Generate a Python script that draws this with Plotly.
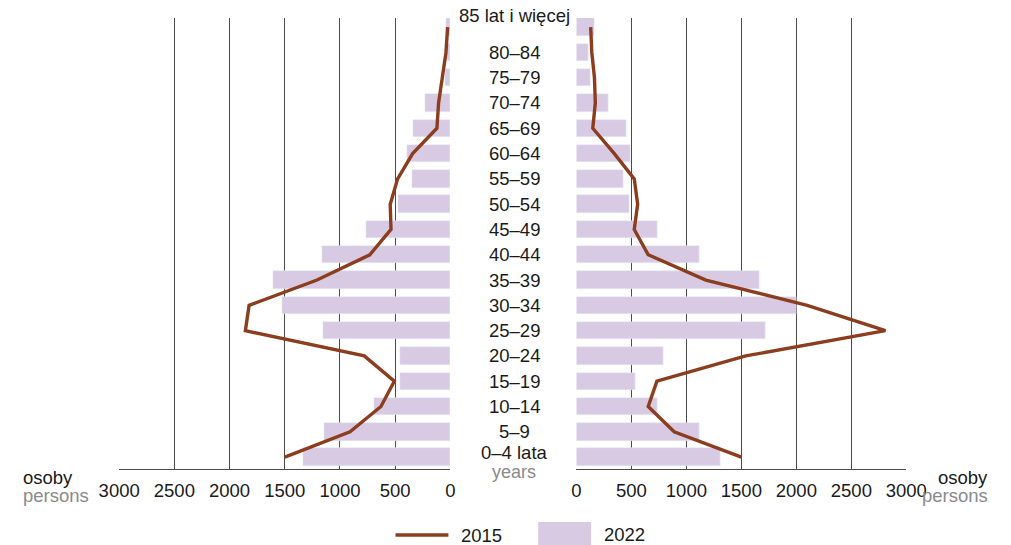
import plotly.graph_objects as go

# Age groups, bottom to top
age_groups = ["0–4 lata", "5–9", "10–14", "15–19", "20–24", "25–29", "30–34", "35–39",
              "40–44", "45–49", "50–54", "55–59", "60–64", "65–69", "70–74", "75–79",
              "80–84", "85 lat i więcej"]

left_2022 = [1336, 1146, 693, 457, 457, 1155, 1527, 1608, 1165, 765, 475, 350, 395, 340, 230, 45, 30, 40]
left_2015 = [1500, 909, 629, 508, 780, 1857, 1823, 1208, 730, 538, 545, 478, 342, 122, 107, 74, 40, 25]
right_2022 = [1312, 1122, 741, 532, 793, 1721, 2000, 1666, 1122, 741, 478, 424, 493, 451, 294, 124, 112, 167]
right_2015 = [1500, 889, 653, 732, 1540, 2810, 2099, 1177, 653, 526, 557, 526, 345, 149, 172, 164, 140, 130]

tick_vals = [0, 500, 1000, 1500, 2000, 2500, 3000]
tick_text = ["0", "500", "1000", "1500", "2000", "2500", "3000"]

W, H = 1011, 545
BAR_COLOR = "#D8CAE3"
LINE_COLOR = "#8B3D1E"
GRID = "#4a4a4a"
FONT = "Liberation Sans, Arial, sans-serif"
TXT = "#1a1a1a"
GREY = "#8a8a8a"

# horizontal placement helper (compensates for how the page is displayed)
OFF, SC = 18.6, 0.9607

def px(x):
    v = (x - OFF) / SC / W
    return min(max(v, 0.0), 1.0)

def py(y):
    return (H - y) / H

ypos = list(range(len(age_groups)))

fig = go.Figure()
fig.add_trace(go.Bar(x=left_2022, y=ypos, orientation="h", marker_color=BAR_COLOR,
                     width=0.69, xaxis="x", yaxis="y", name="2022", showlegend=False))
fig.add_trace(go.Bar(x=right_2022, y=ypos, orientation="h", marker_color=BAR_COLOR,
                     width=0.69, xaxis="x2", yaxis="y", name="2022", showlegend=False))
fig.add_trace(go.Scatter(x=left_2015, y=ypos, mode="lines", line=dict(color=LINE_COLOR, width=3.4),
                         xaxis="x", yaxis="y", name="2015", showlegend=False))
fig.add_trace(go.Scatter(x=right_2015, y=ypos, mode="lines", line=dict(color=LINE_COLOR, width=3.4),
                         xaxis="x2", yaxis="y", name="2015", showlegend=False))

axis_common = dict(
    tickvals=tick_vals, ticktext=tick_text, showgrid=True, gridcolor=GRID, gridwidth=1,
    zeroline=False, showline=True, linecolor=GRID, linewidth=1, ticks="",
    ticklabelstandoff=5,
    layer="above traces", tickfont=dict(family=FONT, size=18.5, color=TXT),
    fixedrange=True,
)

fig.update_layout(
    width=W, height=H, autosize=False,
    margin=dict(l=0, r=0, t=0, b=0),
    paper_bgcolor="white", plot_bgcolor="white",
    bargap=0,
    xaxis=dict(domain=[px(117), px(449)], range=[3000, 0], anchor="y", **axis_common),
    xaxis2=dict(domain=[px(575.3), px(906)], range=[0, 3000], anchor="y", **axis_common),
    yaxis=dict(domain=[py(469), py(18)], range=[-0.47, 17.36], showgrid=False, zeroline=False,
               showticklabels=False, showline=False, fixedrange=True),
    font=dict(family=FONT, size=18.5, color=TXT),
)

annotations = []
for i, lab in enumerate(age_groups):
    shift = 0
    if i == 0:
        shift = 5
    if i == len(age_groups) - 1:
        shift = 12
    annotations.append(dict(x=px(513), xref="paper", y=i, yref="y", text=lab, showarrow=False,
                            xanchor="center", yanchor="middle", yshift=shift,
                            font=dict(family=FONT, size=18.5, color=TXT)))
annotations.append(dict(x=px(513), xref="paper", y=py(472), yref="paper", text="years",
                        showarrow=False, xanchor="center", yanchor="middle",
                        font=dict(family=FONT, size=18, color=GREY)))
annotations += [
    dict(x=px(8), xref="paper", y=py(477), yref="paper", text="osoby", showarrow=False,
         xanchor="left", yanchor="middle", font=dict(family=FONT, size=18.5, color=TXT)),
    dict(x=px(8), xref="paper", y=py(495), yref="paper", text="persons", showarrow=False,
         xanchor="left", yanchor="middle", font=dict(family=FONT, size=18.5, color=GREY)),
    dict(x=px(1010), xref="paper", y=py(477), yref="paper", text="osoby", showarrow=False,
         xanchor="right", yanchor="middle", font=dict(family=FONT, size=18.5, color=TXT)),
    dict(x=px(1010), xref="paper", y=py(495), yref="paper", text="persons", showarrow=False,
         xanchor="right", yanchor="middle", font=dict(family=FONT, size=18.5, color=GREY)),
    dict(x=px(458), xref="paper", y=py(535), yref="paper", text="2015", showarrow=False,
         xanchor="left", yanchor="middle", font=dict(family=FONT, size=18.5, color=TXT)),
    dict(x=px(601), xref="paper", y=py(534), yref="paper", text="2022", showarrow=False,
         xanchor="left", yanchor="middle", font=dict(family=FONT, size=18.5, color=TXT)),
]
fig.update_layout(annotations=annotations)

fig.add_shape(type="line", xref="paper", yref="paper", x0=px(394), x1=px(447), y0=py(535), y1=py(535),
              line=dict(color=LINE_COLOR, width=3.5))
fig.add_shape(type="rect", xref="paper", yref="paper", x0=px(537), x1=px(590), y0=py(546), y1=py(522),
              fillcolor=BAR_COLOR, line=dict(width=0))

fig.write_html("out.html",
               config={"responsive": False, "displayModeBar": False},
               post_script="document.body.style.margin='0';document.body.style.padding='0';"
                           "document.documentElement.style.overflow='hidden';")
